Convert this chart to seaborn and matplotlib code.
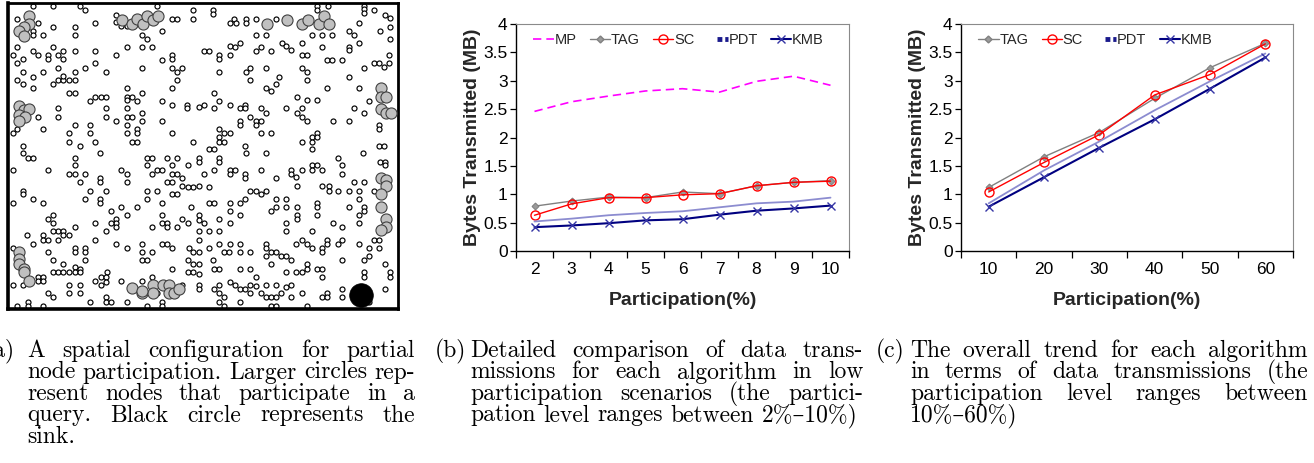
import numpy as np
import pandas as pd
import matplotlib
matplotlib.use("Agg")
import matplotlib.pyplot as plt
import seaborn as sns
from matplotlib.lines import Line2D
from matplotlib.legend_handler import HandlerLine2D
from matplotlib.ticker import FixedLocator, FuncFormatter, NullFormatter

# ---------------- Panel (a): node positions (panel pixel frame) -------------
small_nodes = [
    (98, 18), (158, 18), (237, 18), (468, 18), (950, 18), (982, 18), (1090, 18),
    (253, 32), (578, 32), (638, 32), (950, 30), (1090, 28), (1120, 32),
    (638, 42), (1090, 40), (1152, 45), (345, 45),
    (50, 57), (578, 57), (515, 57), (530, 57), (700, 57), (735, 57), (765, 57), (825, 57),
    (705, 70), (735, 70), (688, 70), (345, 68), (360, 80), (378, 80), (1168, 55),
    (113, 70), (283, 70), (1075, 70), (158, 82), (222, 82), (1168, 82),
    (98, 95), (98, 105), (485, 95), (1045, 95), (1137, 95),
    (128, 105), (222, 105), (423, 105), (765, 105), (795, 105), (935, 105), (965, 105),
    (995, 105), (1060, 105), (438, 118), (1168, 118),
    (688, 140), (718, 130), (843, 130), (1075, 130), (905, 130),
    (48, 142), (158, 142), (378, 142), (423, 142), (453, 142), (703, 142), (780, 142),
    (855, 140), (870, 150), (965, 142), (1045, 142), (1045, 152),
    (98, 155), (113, 165), (143, 165), (143, 178), (173, 165), (188, 155), (188, 178),
    (222, 155), (283, 155), (345, 165), (515, 165), (515, 178), (610, 155), (625, 155),
    (655, 165), (655, 178), (688, 165), (765, 155), (810, 155), (903, 165), (918, 165),
    (1165, 165), (37, 165), (68, 178), (50, 190), (485, 180), (980, 180), (995, 180),
    (1025, 180), (1120, 190), (1135, 190), (1150, 200), (1165, 190),
    (173, 205), (283, 190), (253, 205), (423, 205), (515, 205), (530, 215), (545, 205),
    (795, 205), (903, 205), (918, 215), (1090, 205),
    (68, 215), (128, 215), (222, 215), (315, 215), (655, 215), (735, 215), (748, 205),
    (97, 230), (835, 230), (1045, 230),
    (50, 240), (68, 252), (158, 252), (173, 240), (188, 240), (205, 240), (222, 240),
    (188, 228), (530, 240), (748, 240), (918, 240), (825, 252),
    (97, 265), (205, 278), (222, 278), (378, 265), (423, 278), (515, 265), (795, 265),
    (810, 272), (980, 265), (1075, 265),
    (268, 302), (283, 290), (300, 290), (315, 290), (378, 290), (378, 300), (393, 290),
    (408, 302), (485, 302), (640, 278), (655, 302), (888, 290), (918, 300),
    (950, 300), (1105, 302),
    (515, 315), (560, 315), (560, 325), (595, 320), (610, 315), (640, 325), (688, 315),
    (718, 325), (733, 315), (733, 325), (780, 325), (795, 338), (855, 325), (888, 338),
    (903, 325), (903, 350), (1060, 325), (1090, 338),
    (173, 325), (173, 350), (315, 325), (378, 325), (378, 350), (393, 350), (423, 338),
    (113, 350), (315, 350), (345, 362), (423, 362), (485, 362), (718, 362), (718, 375),
    (748, 350), (765, 362), (780, 362), (918, 362), (998, 362), (1045, 362),
    (37, 400), (50, 388), (128, 388), (222, 375), (268, 375), (378, 375), (378, 400),
    (408, 388), (408, 400), (655, 388), (670, 400), (688, 400), (765, 375), (780, 400),
    (810, 400), (935, 410), (950, 400), (1135, 375), (1135, 388),
    (205, 400), (268, 400), (205, 425), (237, 437), (283, 425), (393, 425), (408, 425),
    (515, 400), (578, 425), (655, 410), (655, 425), (670, 425), (733, 437), (903, 425),
    (935, 425), (935, 448), (950, 412), (1135, 437), (1150, 437),
    (68, 437), (68, 460), (83, 472), (97, 472), (222, 472), (222, 495), (298, 460),
    (438, 472), (453, 472), (500, 472), (530, 472), (595, 472), (595, 485), (625, 448),
    (640, 448), (655, 472), (655, 485), (735, 460), (795, 460), (1088, 460), (1012, 472),
    (37, 508), (143, 508), (205, 520), (222, 520), (237, 545), (253, 520), (298, 533),
    (298, 545), (362, 508), (378, 520), (378, 545), (438, 495), (453, 520), (468, 508),
    (485, 508), (515, 495), (515, 520), (530, 520), (545, 533), (562, 495), (578, 560),
    (595, 558), (610, 520), (640, 508), (688, 508), (688, 520), (703, 508), (733, 520),
    (733, 533), (780, 508), (825, 533), (870, 508), (870, 520), (885, 530), (905, 508),
    (935, 495), (935, 508), (950, 495), (965, 508), (1025, 495), (1025, 520),
    (1137, 485), (1152, 485), (1152, 495),
    (500, 545), (515, 545), (545, 558), (562, 560), (625, 560), (888, 558), (965, 558),
    (985, 558), (985, 572), (1012, 572), (1045, 572), (1060, 545), (1090, 545),
    (68, 572), (68, 582), (97, 595), (128, 607), (37, 607), (253, 595), (268, 572),
    (298, 595), (298, 607), (315, 572), (438, 572), (438, 595), (468, 572), (485, 607),
    (515, 582), (530, 582), (748, 572), (765, 572), (780, 580), (795, 572), (825, 595),
    (855, 595), (1075, 572), (1075, 595), (1120, 572),
    (362, 620), (408, 620), (570, 620), (625, 607), (640, 607), (688, 607),
    (718, 607), (733, 595), (810, 632), (825, 620), (855, 620), (888, 620), (950, 607),
    (950, 620), (1045, 620), (1090, 620),
    (143, 655), (158, 645), (330, 632), (345, 655), (345, 668), (345, 680), (378, 645),
    (485, 645), (485, 668), (500, 668), (530, 680), (545, 655), (562, 668), (595, 645),
    (595, 660), (610, 668), (655, 655), (688, 632), (688, 668), (718, 645), (855, 668),
    (888, 645), (888, 655), (950, 645), (1075, 645), (1090, 632),
    (158, 668), (173, 692), (188, 692), (205, 705), (188, 705), (158, 692), (222, 680),
    (283, 668), (315, 692), (330, 668), (453, 680), (500, 680), (595, 692), (625, 692),
    (655, 692), (855, 692), (935, 692), (998, 668), (1025, 680), (1075, 668),
    (80, 705), (97, 730), (128, 705), (128, 718), (143, 718), (173, 718), (283, 718),
    (345, 730), (378, 742), (423, 730), (485, 730), (500, 730), (515, 742), (565, 742),
    (595, 718), (625, 742), (655, 730), (688, 730), (718, 730), (795, 730), (795, 742),
    (885, 730), (903, 718), (918, 730), (935, 742), (965, 742), (980, 718), (980, 730),
    (1012, 730), (1025, 718), (1075, 730), (1105, 742), (1120, 718), (1135, 718),
    (37, 742), (143, 755), (222, 742), (253, 742), (222, 755), (253, 755), (423, 755),
    (453, 755), (578, 755), (595, 755), (670, 755), (685, 755), (718, 755), (748, 755),
    (795, 768), (810, 755), (825, 755), (840, 768), (855, 768), (870, 778), (965, 755),
    (1090, 778), (1105, 768), (1135, 742),
    (158, 778), (188, 790), (222, 800), (237, 805), (253, 778), (318, 815), (423, 778),
    (438, 778), (515, 805), (562, 778), (578, 790), (595, 790), (638, 778), (655, 805),
    (640, 805), (718, 805), (748, 805), (810, 790), (918, 790), (918, 805), (950, 805),
    (965, 805), (1025, 778), (1152, 790),
    (113, 830), (113, 840), (128, 830), (128, 840), (158, 815), (173, 815), (188, 815),
    (205, 815), (222, 815), (237, 815), (300, 830), (315, 830), (315, 845), (453, 830),
    (562, 815), (578, 815), (595, 820), (765, 830), (855, 815), (885, 815), (903, 815),
    (965, 830), (1090, 815), (1090, 830), (1168, 815), (1168, 830),
    (37, 852), (68, 852), (205, 852), (237, 852), (283, 840), (300, 852), (362, 840),
    (423, 840), (468, 852), (545, 852), (595, 852), (595, 865), (640, 865), (655, 852),
    (688, 845), (703, 852), (718, 865), (733, 865), (748, 852), (765, 855), (795, 852),
    (825, 852), (855, 860), (870, 852), (1152, 865), (1025, 865),
    (143, 878), (158, 890), (205, 878), (237, 878), (470, 878), (655, 878), (670, 890),
    (748, 878), (780, 878), (795, 890), (810, 890), (825, 890), (840, 878), (870, 890),
    (903, 878), (965, 890), (980, 878), (980, 890), (1025, 890),
    (50, 915), (83, 905), (83, 915), (128, 915), (268, 905), (315, 890), (315, 905),
    (330, 905), (378, 905), (438, 915), (485, 905), (485, 915), (655, 905), (670, 915),
    (718, 905), (810, 915), (825, 915), (918, 915), (1105, 905),
]
query_nodes = [
    (85, 48), (85, 72), (70, 82), (55, 95), (70, 108),
    (365, 60), (395, 72), (410, 58), (428, 72), (440, 48), (458, 60), (472, 48),
    (798, 72), (858, 60), (905, 72), (922, 60), (955, 72), (970, 48), (985, 72),
    (55, 318), (70, 330), (85, 328), (55, 345), (72, 352), (55, 362),
    (1140, 265), (1140, 292), (1155, 292), (1140, 328), (1155, 340), (1170, 340),
    (1140, 532), (1155, 540), (1155, 558), (1140, 580), (1140, 620), (1155, 655),
    (1155, 680), (1140, 690),
    (55, 755), (55, 775), (55, 790), (70, 805), (70, 815), (85, 840),
    (395, 862), (425, 878), (458, 852), (458, 878), (488, 852), (505, 852), (505, 878),
    (520, 878), (535, 865), (423, 870),
]
sink_node = [(1080, 882)]

# ---------------- Panel (b): low participation ----------------
low_levels = ["2", "3", "4", "5", "6", "7", "8", "9", "10"]
mp_low = [2.46, 2.63, 2.73, 2.82, 2.86, 2.80, 2.99, 3.08, 2.92]
tag_low = [0.79, 0.88, 0.95, 0.94, 1.04, 1.01, 1.15, 1.21, 1.24]
sc_low = [0.63, 0.83, 0.94, 0.94, 0.99, 1.01, 1.15, 1.21, 1.23]
pdt_low = [0.52, 0.57, 0.63, 0.67, 0.70, 0.77, 0.84, 0.87, 0.94]
kmb_low = [0.42, 0.45, 0.49, 0.54, 0.56, 0.64, 0.71, 0.75, 0.80]

# ---------------- Panel (c): overall trend ----------------
high_levels = ["10", "20", "30", "40", "50", "60"]
tag_high = [1.12, 1.66, 2.09, 2.69, 3.23, 3.66]
sc_high = [1.04, 1.56, 2.05, 2.75, 3.11, 3.65]
pdt_high = [0.84, 1.42, 1.93, 2.48, 2.99, 3.48]
kmb_high = [0.78, 1.30, 1.82, 2.32, 2.86, 3.41]

y_ticks = [0, 0.5, 1, 1.5, 2, 2.5, 3, 3.5, 4]

captions = {
    "a": ["A spatial configuration for partial",
          "node participation. Larger circles rep-",
          "resent nodes that participate in a",
          "query. Black circle represents the",
          "sink."],
    "b": ["Detailed comparison of data trans-",
          "missions for each algorithm in low",
          "participation scenarios (the partici-",
          "pation level ranges between 2%\u201310%)"],
    "c": ["The overall trend for each algorithm",
          "in terms of data transmissions (the",
          "participation level ranges between",
          "10%\u201360%)"],
}

# ---------------- styling ----------------
sns.set_theme(style="ticks")
plt.rcParams["font.family"] = ["Liberation Sans", "DejaVu Sans"]

W, H = 1314, 463
fig = plt.figure(figsize=(W / 100, H / 100), dpi=100)


def ax_px(l, t, r, b):
    return fig.add_axes([l / W, 1 - b / H, (r - l) / W, (b - t) / H])


# ---- panel a ----
axa = ax_px(8, 3, 398, 309)
sdf = pd.DataFrame(small_nodes, columns=["x", "y"])
qdf = pd.DataFrame(query_nodes, columns=["x", "y"])
kdf = pd.DataFrame(sink_node, columns=["x", "y"])
sns.scatterplot(data=sdf, x="x", y="y", ax=axa, s=13, color="white",
                edgecolor="black", linewidth=0.85, zorder=2)
sns.scatterplot(data=qdf, x="x", y="y", ax=axa, s=64, color="#c0c0c0",
                edgecolor="#404040", linewidth=0.8, zorder=3)
sns.scatterplot(data=kdf, x="x", y="y", ax=axa, s=290, color="black",
                edgecolor="black", linewidth=0.5, zorder=4)
axa.set_xlim(22, 1192)
axa.set_ylim(925, 10)
axa.set_xticks([])
axa.set_yticks([])
axa.set_xlabel("")
axa.set_ylabel("")
for name, sp in axa.spines.items():
    sp.set_visible(True)
    sp.set_color("black")
    sp.set_linewidth(2.6 if name in ("left", "bottom") else 2.0)

# ---- line panels ----
STY = {
    "MP": dict(color="#ff00ff", linestyle=(0, (5, 3)), linewidth=1.2),
    "TAG": dict(color="#808080", marker="D", markersize=3.5, markerfacecolor="#9a9a9a",
                markeredgecolor="#808080", linewidth=1.0),
    "SC": dict(color="#ff0000", marker="o", markersize=6.5, markerfacecolor="none",
               markeredgecolor="#ff0000", markeredgewidth=1.0, linewidth=1.0),
    "PDT": dict(color="#8c8cd0", linewidth=1.3),
    "KMB": dict(color="#000080", marker="x", markersize=6, markeredgecolor="#3535a5",
                markeredgewidth=1.0, linewidth=1.5),
}
LEG = {
    "MP": Line2D([], [], **STY["MP"]),
    "TAG": Line2D([], [], **STY["TAG"]),
    "SC": Line2D([], [], **STY["SC"]),
    "PDT": Line2D([], [], color="#1a1a8c", linestyle=(0, (1, 0.6)), linewidth=3.5),
    "KMB": Line2D([], [], **STY["KMB"]),
}


class ShortHandler(HandlerLine2D):
    """Legend handle drawn only on the right half (the short PDT swatch)."""

    def get_xdata(self, legend, xdescent, ydescent, width, height, fontsize):
        xd, xdm = super().get_xdata(legend, xdescent, ydescent, width, height, fontsize)
        xd = np.asarray(xd, dtype=float).copy()
        xd[0] = xd[0] + 0.45 * (xd[-1] - xd[0])
        return xd, xdm


def line_panel(ax, cats, series, leg_x):
    for name, vals in series:
        sns.lineplot(x=cats, y=vals, ax=ax, sort=False, errorbar=None, **STY[name])
    n = len(cats)
    ax.set_xlim(-0.5, n - 0.5)
    ax.set_ylim(0, 4)
    ax.yaxis.set_major_locator(FixedLocator(y_ticks))
    ax.yaxis.set_major_formatter(FuncFormatter(lambda v, p: f"{v:g}"))
    ax.xaxis.set_minor_locator(FixedLocator(np.arange(-0.5, n, 1.0)))
    ax.xaxis.set_minor_formatter(NullFormatter())
    ax.tick_params(axis="x", which="major", length=0, pad=8, labelsize=12.5, colors="black")
    ax.tick_params(axis="x", which="minor", length=5, width=0.9, direction="out", color="black")
    ax.tick_params(axis="y", which="major", length=4, width=0.9, direction="out", pad=2,
                   labelsize=12.5, colors="black")
    for name, sp in ax.spines.items():
        sp.set_visible(True)
        if name in ("left", "bottom"):
            sp.set_color("black")
            sp.set_linewidth(1.0)
        else:
            sp.set_color("#8a8a8a")
            sp.set_linewidth(0.8)
    ax.set_xlabel("Participation(%)", fontsize=14, fontweight="bold", labelpad=11)
    ax.set_ylabel("Bytes Transmitted (MB)", fontsize=14, fontweight="bold", labelpad=2)
    names = [s[0] for s in series]
    ax.legend([LEG[k] for k in names], names, ncol=len(names), frameon=False,
              loc="center left", bbox_to_anchor=(leg_x, 0.93), borderpad=0,
              handlelength=1.4, handletextpad=0.05, columnspacing=0.9, fontsize=10.5,
              handler_map={LEG["PDT"]: ShortHandler()})


axb = ax_px(516, 24, 849, 251)
line_panel(axb, low_levels,
           [("MP", mp_low), ("TAG", tag_low), ("SC", sc_low), ("PDT", pdt_low), ("KMB", kmb_low)],
           0.03)
axc = ax_px(961, 24, 1293, 251)
line_panel(axc, high_levels,
           [("TAG", tag_high), ("SC", sc_high), ("PDT", pdt_high), ("KMB", kmb_high)],
           0.03)

# ---- captions (justified like the LaTeX subcaptions) ----
CSIZE = 17
CF = dict(family=["cmr10", "DejaVu Serif"], size=CSIZE, color="black")
renderer = fig.canvas.get_renderer()
baselines = [357, 378.5, 400, 421.5, 443]
space_px = 0.333 * CSIZE * 100 / 72


def caption(label, label_right, x0, x1, lines):
    fig.text(label_right / W, 1 - baselines[0] / H, label, ha="right", va="baseline", **CF)
    for i, line in enumerate(lines):
        yb = 1 - baselines[i] / H
        words = line.split(" ")
        ts = [fig.text(0, yb, w, ha="left", va="baseline", **CF) for w in words]
        widths = [t.get_window_extent(renderer).width for t in ts]
        last = i == len(lines) - 1
        if not last and len(words) > 1:
            gap = (x1 - x0 - sum(widths)) / (len(words) - 1)
        else:
            gap = space_px
        x = x0
        for t, wd in zip(ts, widths):
            t.set_x(x / W)
            x += wd + gap


caption("(a)", 15, 27, 415, captions["a"])
caption("(b)", 466, 470, 863, captions["b"])
caption("(c)", 905, 910, 1308, captions["c"])

fig.savefig("out.png", dpi=100)
